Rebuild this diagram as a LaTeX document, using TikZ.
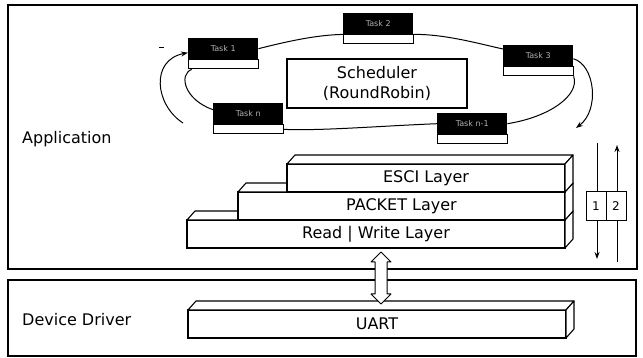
\documentclass[tikz,border=0pt]{standalone}
\usepackage{fontspec}
\setmainfont{DejaVu Sans}
\usetikzlibrary{arrows.meta,calc}
\newcommand{\slabfaces}[1]{%
  \draw[line width=1.1pt, fill=white, line join=round] (#1.north west) -- ++(8,9) -- ($(#1.north east)+(8,9)$) -- (#1.north east) -- cycle;
  \draw[line width=1.1pt, fill=white, line join=round] (#1.north east) -- ++(8,9) -- ($(#1.south east)+(8,9)$) -- (#1.south east) -- cycle;}
\begin{document}
\begin{tikzpicture}[x=1pt,y=1pt,
  frame/.style={draw, line width=1.1pt},
  lbl/.style={font=\fontsize{16}{20}\selectfont, inner sep=0},
  taskhead/.style={fill=black, minimum width=70pt, minimum height=21pt, inner sep=0, anchor=north west, text=black!30, font=\fontsize{8}{8}\selectfont},
  taskfoot/.style={draw, fill=white, line width=0.9pt, minimum width=70pt, minimum height=9pt, anchor=north, inner sep=0},
  slab/.style={draw, fill=white, line width=1.1pt, anchor=north west, inner sep=0, outer sep=0, minimum height=28pt, font=\fontsize{16}{16}\selectfont},
  ring/.style={line width=1pt},
  arr/.style={line width=1pt, -{Stealth[length=7pt,width=5pt]}},
  numbox/.style={draw, fill=white, line width=1pt, minimum width=20pt, minimum height=29pt, inner sep=0, font=\fontsize{12}{12}\selectfont},
]
\useasboundingbox (0,0) rectangle (643,-358);
% outer frames
\draw[frame] (8,-5) rectangle (637,-269);
\draw[frame] (8,-280) rectangle (636,-356);
\node[lbl, anchor=base west] (app) at (22,-144) {Application};
\node[lbl, anchor=base west] (dd) at (22,-325) {Device Driver};

% scheduler
\node[draw, line width=1.1pt, minimum width=180pt, minimum height=49pt, align=center, font=\fontsize{16}{20}\selectfont] (sch) at (377,-83.5) {Scheduler\\(RoundRobin)};

% tasks
\node[taskhead] (t1) at (188,-38) {Task 1};
\node[taskfoot] (t1b) at (t1.south) {};
\node[taskhead] (t2) at (343,-13) {Task 2};
\node[taskfoot] (t2b) at (t2.south) {};
\node[taskhead] (t3) at (503,-45) {Task 3};
\node[taskfoot] (t3b) at (t3.south) {};
\node[taskhead] (tn) at (213,-103) {Task n};
\node[taskfoot] (tnb) at (tn.south) {};
\node[taskhead] (tm) at (437,-113) {Task n-1};
\node[taskfoot] (tmb) at (tm.south) {};

% ring connectors
\draw[ring] (t1.east) .. controls (285,-42) and (315,-35) .. (t2.south west);
\draw[ring] (t2.south east) .. controls (445,-34) and (480,-44) .. ([yshift=-4]t3.north west);
\draw[ring] (t3b.south east) .. controls (580,-95) and (550,-117) .. (tm.east);
\draw[ring] (tm.west) .. controls (380,-126) and (320,-131) .. (tnb.east);
\draw[ring] ([yshift=4]tn.west) .. controls (185,-100) and (178,-75) .. ([xshift=4]t1b.south west);

% curved arrows
\coordinate (a1) at (183,-123);
\draw[arr] (a1) .. controls (155,-105) and (150,-60) .. ([yshift=-4]t1.west);
\coordinate (a2) at (576,-128);
\draw[arr] ([yshift=-3]t3.east) .. controls (595,-65) and (600,-110) .. (a2);
\coordinate (dashA) at (159,-48);
\coordinate (dashB) at (164,-48);
\draw[line width=1pt] (dashA) -- (dashB);

% layers
\node[slab, minimum width=378pt] (rw) at (187,-220) {Read | Write Layer};
\slabfaces{rw}
\node[slab, minimum width=327pt] (pk) at (238,-192) {PACKET Layer};
\slabfaces{pk}
\node[slab, minimum width=278pt] (es) at (287,-164) {ESCI Layer};
\slabfaces{es}

\node[slab, minimum width=378pt] (uart) at (188,-310) {UART};
\slabfaces{uart}

% double arrow
\draw[line width=1pt, fill=white, line join=round]
  (381,-252) -- (391,-262) -- (387,-262) -- (387,-294) -- (391,-294) -- (381,-304)
  -- (371,-294) -- (375,-294) -- (375,-262) -- (371,-262) -- cycle;

% right-side arrows and boxes
\coordinate (d1) at (597,-143);
\coordinate (d2) at (597,-259);
\coordinate (u1) at (617,-262);
\coordinate (u2) at (617,-145);
\draw[arr] (d1) -- (d2);
\draw[arr] (u1) -- (u2);
\node[numbox] (n1) at (596,-206.5) {1};
\node[numbox] (n2) at (616,-206.5) {2};
\end{tikzpicture}
\end{document}
